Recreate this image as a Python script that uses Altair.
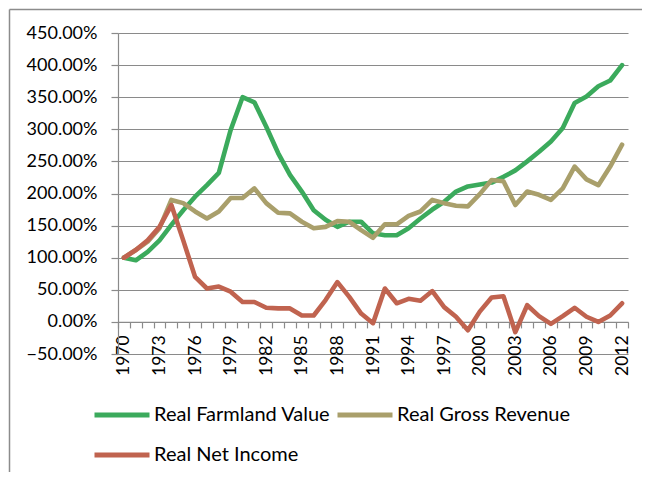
import altair as alt
import pandas as pd

years = list(range(1970, 2013))
farmland = [100, 96, 109, 127, 151, 174, 195, 213, 232, 299,
            350, 342, 304, 263, 229, 203, 174, 159, 148, 156,
            156, 138, 135, 135, 146, 161, 175, 187, 203, 211,
            214, 217, 226, 236, 250, 265, 281, 302, 341, 351,
            367, 376, 400]
gross = [100, 112, 125, 146, 190, 185, 172, 161, 172, 193,
         193, 208, 185, 170, 169, 156, 146, 148, 157, 156,
         143, 131, 152, 152, 165, 172, 190, 185, 181, 180,
         199, 221, 219, 182, 203, 198, 190, 208, 242, 222,
         213, 242, 276]
net = [100, 112, 127, 148, 182, 127, 70, 52, 55, 47,
       31, 31, 22, 21, 21, 10, 10, 34, 62, 39,
       13, -2, 52, 29, 36, 33, 48, 23, 8, -13,
       16, 38, 40, -16, 26, 9, -3, 9, 22, 8,
       0, 10, 29]
series_names = ["Real Farmland Value", "Real Gross Revenue", "Real Net Income"]
series_colors = ["#3BAA5C", "#A99F6B", "#C0634F"]
y_ticks = list(range(-50, 451, 50))

rows = []
for name, vals in zip(series_names, [farmland, gross, net]):
    for yr, v in zip(years, vals):
        rows.append({"year": yr, "value": v, "series": name})
df = pd.DataFrame(rows)

W, H = 510, 321
GRAY = "#8a8a8a"
FONT = "Lato"

x_enc = alt.X(
    "year:Q",
    scale=alt.Scale(domain=[1969.5, 2012.5], nice=False, zero=False),
    axis=alt.Axis(
        values=[y - 0.5 for y in years] + [2012.5],
        title=None, grid=False, tickSize=6, tickColor=GRAY, tickWidth=1.2,
        domainColor=GRAY, domainWidth=1.2, offset=-H / 10,
        labelAngle=-90, labelAlign="right", labelBaseline="middle",
        labelPadding=7, labelOffset=W / 43 / 2,
        labelExpr="(datum.value + 0.5) % 3 == 2 ? format(datum.value + 0.5, 'd') : ''",
        labelOverlap=False, labelFlush=False, labelBound=False,
        labelFont=FONT, labelFontSize=17.5, labelColor="black",
    ),
)
y_enc = alt.Y(
    "value:Q",
    scale=alt.Scale(domain=[-50, 450], nice=False, zero=False),
    axis=alt.Axis(
        values=y_ticks, title=None,
        labelExpr="format(datum.value, '.2f') + '%'",
        tickSize=7, tickColor=GRAY, tickWidth=1.2,
        domainColor=GRAY, domainWidth=1.2,
        gridColor=GRAY, gridWidth=1.2,
        labelPadding=14, labelFont=FONT, labelFontSize=18, labelColor="black",
    ),
)

lines = alt.Chart(df).mark_line(strokeWidth=4.6, strokeJoin="round", strokeCap="round").encode(
    x=x_enc,
    y=y_enc,
    color=alt.Color(
        "series:N",
        scale=alt.Scale(domain=series_names, range=series_colors),
        legend=alt.Legend(
            title=None, orient="none", legendX=-26, legendY=352,
            direction="horizontal", columns=2,
            symbolType="stroke", symbolSize=3025, symbolStrokeWidth=5,
            labelFont=FONT, labelFontSize=20, labelColor="black",
            labelOffset=2, columnPadding=-4, rowPadding=-7, padding=0,
            labelLimit=0,
        ),
    ),
)

# decorative chart-area border (left and top edges visible in the reference)
frame_df = pd.DataFrame({"a": [0]})
frame_left = alt.Chart(frame_df).mark_rule(color="#8c8c8c", strokeWidth=1.5).encode(
    x=alt.value(-108.5), y=alt.value(-23.5), y2=alt.value(H + 300)
)
frame_top = alt.Chart(frame_df).mark_rule(color="#8c8c8c", strokeWidth=1.5).encode(
    y=alt.value(-23.5), x=alt.value(-108.5), x2=alt.value(W + 200)
)

chart = alt.layer(frame_left, frame_top, lines).properties(
    width=W, height=H,
    autosize=alt.AutoSizeParams(type="none"),
    padding={"left": 110, "top": 25, "right": 14, "bottom": 118},
    background="white",
).configure_view(stroke=None)

chart.save("out.html", embed_options={"renderer": "svg", "actions": False})
